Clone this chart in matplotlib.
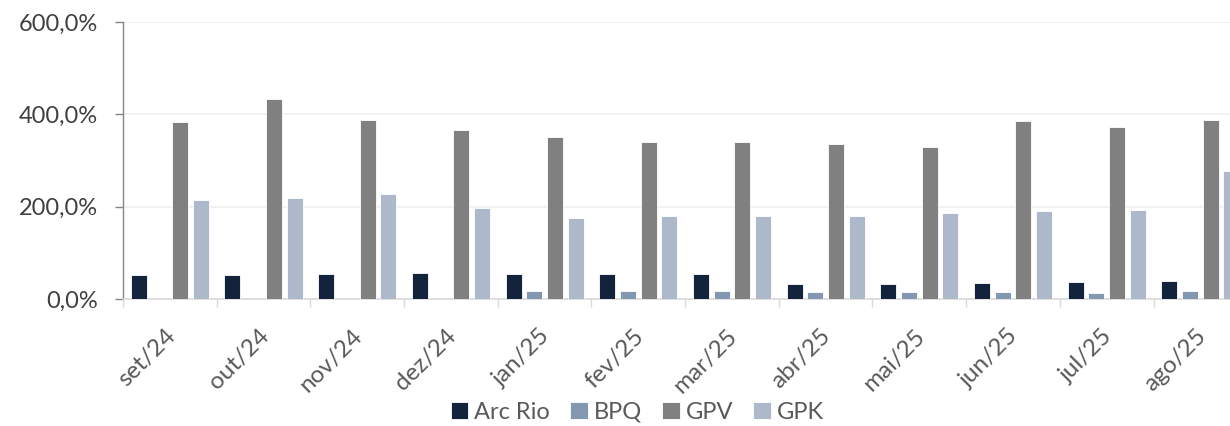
import matplotlib.pyplot as plt
import matplotlib.ticker as mticker
import numpy as np

# dados
meses = ['set/24', 'out/24', 'nov/24', 'dez/24', 'jan/25', 'fev/25',
         'mar/25', 'abr/25', 'mai/25', 'jun/25', 'jul/25', 'ago/25']
arc_rio = [51.3, 52.0, 53.5, 55.6, 53.5, 54.0, 54.9, 31.8, 31.8, 34.0, 37.5, 39.7]
bpq = [0, 0, 0, 0, 17.3, 17.0, 16.6, 15.2, 15.2, 14.4, 13.7, 16.6]
gpv = [383.0, 433.9, 387.7, 365.3, 351.6, 339.4, 340.7, 335.0, 329.0, 385.5, 372.5, 387.0]
gpk = [213.7, 218.0, 227.4, 197.8, 176.0, 179.8, 179.0, 179.8, 186.3, 190.6, 193.4, 277.0]

series = [('Arc Rio', arc_rio, '#14233C'),
          ('BPQ', bpq, '#8497B0'),
          ('GPV', gpv, '#808080'),
          ('GPK', gpk, '#ADB9CA')]

plt.rcParams['font.family'] = ['Lato', 'DejaVu Sans']

fig = plt.figure(figsize=(12.3, 4.26), dpi=100)
ax = fig.add_axes([0.1, 0.298, 0.914, 0.65])

x = np.arange(len(meses))
passo = 0.221
largura = 0.171
for i, (nome, vals, cor) in enumerate(series):
    ax.bar(x + (i - 1.5) * passo, vals, largura, color=cor, label=nome,
           edgecolor='white', linewidth=0.6, zorder=3)

ax.set_xlim(-0.5, len(meses) - 0.5)
ax.set_ylim(0, 600)
ax.set_yticks([0, 200, 400, 600])
ax.yaxis.set_major_formatter(mticker.FuncFormatter(lambda v, p: f'{v:.1f}%'.replace('.', ',')))
ax.grid(axis='y', color='#F0F0F0', linewidth=1.2, zorder=0)

# ticks do eixo x nas divisas, rótulos deslocados
ax.set_xticks(np.arange(len(meses) + 1) - 0.5)
ax.set_xticklabels([])
ax.set_xticks(x + 0.1, minor=True)
ax.set_xticklabels(meses, minor=True, rotation=45, ha='right', va='top',
                   fontsize=17.5, color='#595959')
ax.tick_params(axis='x', which='major', length=6, width=1, color='#D9D9D9')
ax.tick_params(axis='x', which='minor', length=0, pad=19)
ax.tick_params(axis='y', length=6, width=1, color='#868686', pad=12,
               labelsize=17, labelcolor='#404040')

for s in ['top', 'right']:
    ax.spines[s].set_visible(False)
ax.spines['bottom'].set_color('#D9D9D9')
ax.spines['bottom'].set_linewidth(1.2)
ax.spines['left'].set_color('#868686')
ax.spines['left'].set_linewidth(1)

fig.legend(loc='center', bbox_to_anchor=(0.518, 0.032), ncol=4, frameon=False,
           fontsize=17, labelcolor='#595959', handlelength=0.75, handleheight=0.75,
           handletextpad=0.25, columnspacing=0.85)

fig.savefig('out.png', dpi=100)
